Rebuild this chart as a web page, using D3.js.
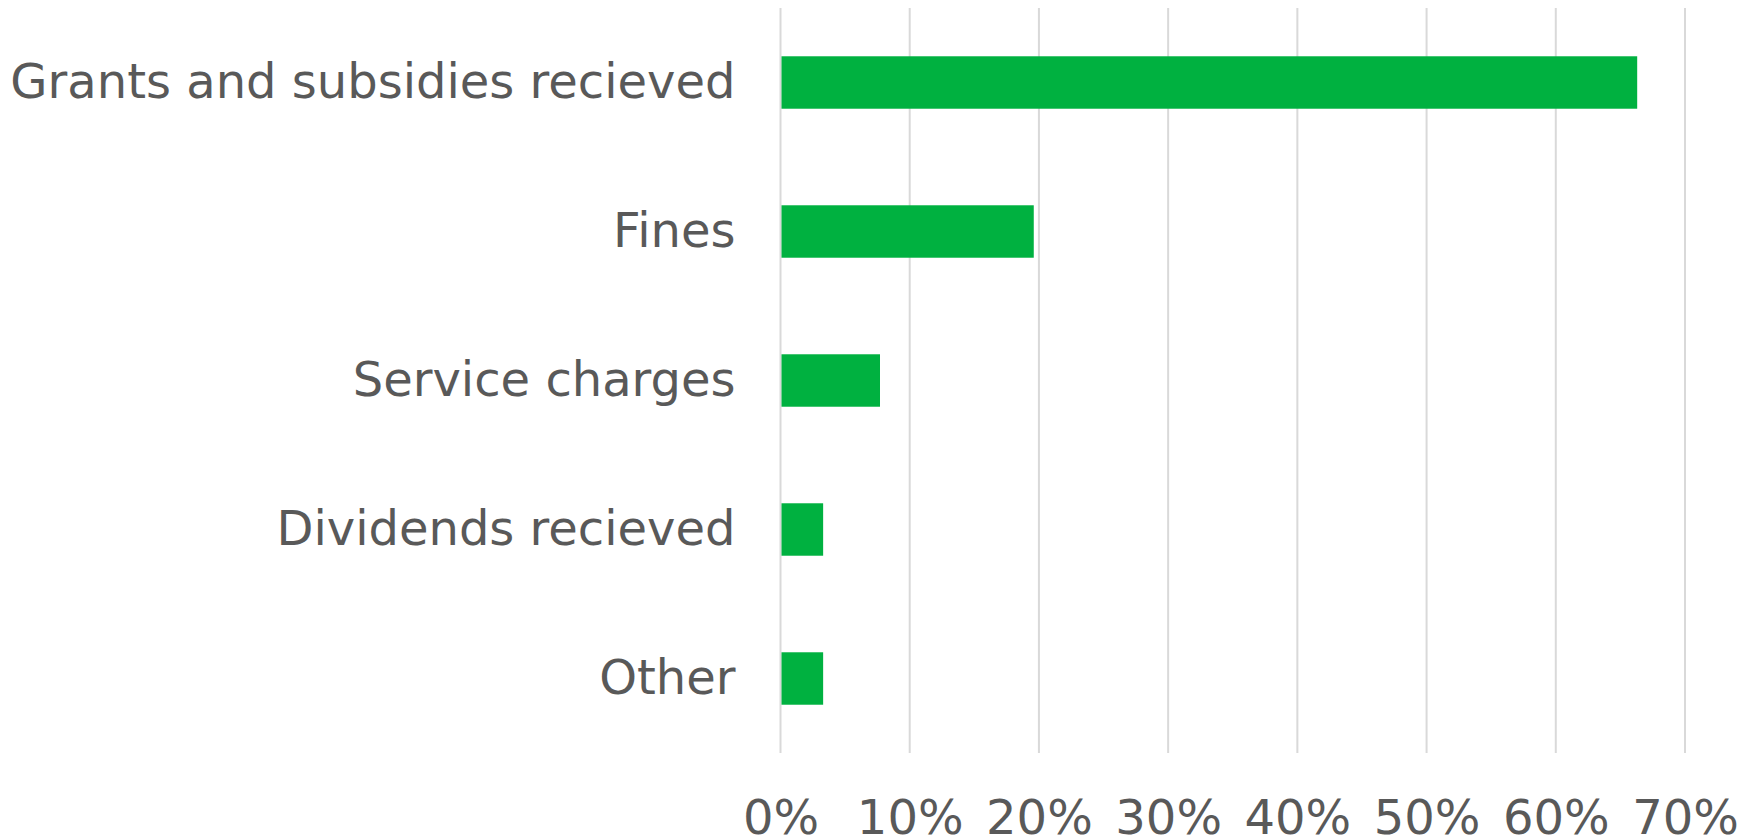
<!DOCTYPE html>
<html>
<head>
<meta charset="utf-8">
<script src="https://cdn.jsdelivr.net/npm/d3@7"></script>
<style>
  body { margin: 0; background: #fff; }
  svg { display: block; }
</style>
</head>
<body>
<div id="chart"></div>
<script>
// data
var categories = ["Grants and subsidies recieved", "Fines", "Service charges", "Dividends recieved", "Other"];
var shares = [0.663, 0.196, 0.077, 0.033, 0.033];
var tickValues = [0, 0.1, 0.2, 0.3, 0.4, 0.5, 0.6, 0.7];

var W = 1759, H = 840;
var margin = {top: 8, right: 74, bottom: 87, left: 780.5};

var svg = d3.select("#chart").append("svg")
    .attr("width", W)
    .attr("height", H);

var x = d3.scaleLinear()
    .domain([0, 0.7])
    .range([margin.left, W - margin.right]);

var y = d3.scaleBand()
    .domain(categories)
    .range([margin.top, H - margin.bottom])
    .paddingInner(0.648)
    .paddingOuter(0.324);

// vertical gridlines
svg.append("g")
    .selectAll("line")
    .data(tickValues)
    .enter().append("line")
    .attr("x1", function(d) { return x(d); })
    .attr("x2", function(d) { return x(d); })
    .attr("y1", margin.top)
    .attr("y2", H - margin.bottom)
    .attr("stroke", "#d9d9d9")
    .attr("stroke-width", 2);

// bars
svg.append("g")
    .selectAll("rect")
    .data(categories)
    .enter().append("rect")
    .attr("x", x(0) + 1)
    .attr("y", function(d) { return y(d); })
    .attr("width", function(d, i) { return x(shares[i]) - x(0) - 1; })
    .attr("height", y.bandwidth())
    .attr("fill", "#00b140");

// category labels
var yAxis = svg.append("g")
    .attr("transform", "translate(" + (margin.left - 45) + ",0)")
    .call(d3.axisLeft(y).tickSize(0).tickPadding(0));
yAxis.select(".domain").remove();
yAxis.selectAll("text")
    .attr("fill", "#595959")
    .style("font-family", "'DejaVu Sans', Verdana, sans-serif")
    .style("font-size", "48px");

// percent labels
var xAxis = svg.append("g")
    .attr("transform", "translate(0," + (H - margin.bottom) + ")")
    .call(d3.axisBottom(x).tickValues(tickValues).tickFormat(d3.format(".0%")).tickSize(0).tickPadding(47));
xAxis.select(".domain").remove();
xAxis.selectAll("text")
    .attr("fill", "#595959")
    .style("font-family", "'DejaVu Sans', Verdana, sans-serif")
    .style("font-size", "48px");
</script>
</body>
</html>
